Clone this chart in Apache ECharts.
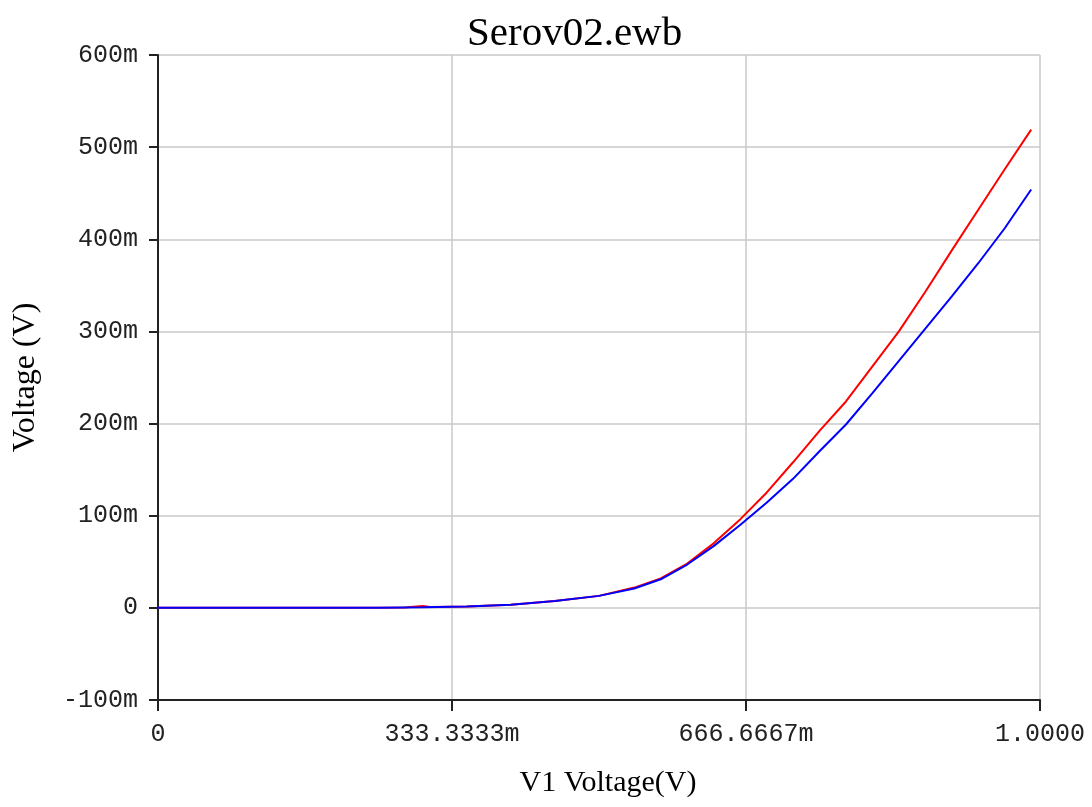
<!DOCTYPE html>
<html>
<head>
<meta charset="utf-8">
<script src="https://cdn.jsdelivr.net/npm/echarts@6/dist/echarts.min.js"></script>
<style>html,body{margin:0;padding:0;background:#fff;}#c{width:1092px;height:807px;}</style>
</head>
<body>
<div id="c"></div>
<script>
// Input sweep (V1, volts)
const vinRed  = [0, 0.1, 0.2, 0.28, 0.30, 0.31, 0.35, 0.40, 0.45, 0.50, 0.54, 0.57, 0.60, 0.63, 0.66, 0.69, 0.72, 0.75, 0.78, 0.81, 0.84, 0.87, 0.90, 0.93, 0.96, 0.99];
// Output voltages (mV)
const redMv   = [0, 0, 0, 0.3, 2, 0.8, 1.5, 3.5, 7.5, 13, 22, 32, 48, 70, 96, 125, 158, 192, 224, 262, 300, 343, 388, 432, 476, 519];
const vinBlue = [0, 0.1, 0.2, 0.25, 0.30, 0.35, 0.40, 0.45, 0.50, 0.54, 0.57, 0.60, 0.63, 0.66, 0.69, 0.72, 0.75, 0.78, 0.81, 0.84, 0.87, 0.90, 0.93, 0.96, 0.99];
const blueMv  = [0, 0, 0, 0.2, 0.6, 1.5, 3.5, 7.5, 13, 21, 31, 47, 67, 90, 114, 140, 170, 199, 233, 268, 303, 338, 374, 412, 454];
const xTickLabels = ['0', '333.3333m', '666.6667m', '1.0000'];
const yTickLabels = ['-100m', '0', '100m', '200m', '300m', '400m', '500m', '600m'];

const redData = vinRed.map((v, i) => [v, redMv[i]]);
const blueData = vinBlue.map((v, i) => [v, blueMv[i]]);

const chart = echarts.init(document.getElementById('c'), null, {renderer: 'canvas'});
const labelStyle = {fontFamily: 'Liberation Mono', fontSize: 25, color: '#222'};
chart.setOption({
  animation: false,
  backgroundColor: '#fff',
  title: {
    text: 'Serov02.ewb',
    left: 462, top: 9,
    textStyle: {fontFamily: 'Liberation Serif', fontSize: 41, fontWeight: 'normal', color: '#000'}
  },
  grid: {left: 158, right: 52, top: 55, bottom: 107, containLabel: false},
  xAxis: {
    type: 'value', min: 0, max: 1, interval: 1 / 3,
    name: 'V1 Voltage(V)', nameLocation: 'middle', nameGap: 68,
    nameTextStyle: {fontFamily: 'Liberation Serif', fontSize: 30, color: '#000', padding: [0, 0, 0, 18]},
    axisLine: {onZero: false, lineStyle: {color: '#222', width: 2}},
    axisTick: {show: true, length: 11, lineStyle: {color: '#222', width: 2}},
    axisLabel: Object.assign({margin: 22, formatter: v => xTickLabels[Math.round(v * 3)]}, labelStyle),
    splitLine: {show: true, lineStyle: {color: '#c8c8c8', width: 1.5}}
  },
  yAxis: {
    type: 'value', min: -100, max: 600, interval: 100,
    name: 'Voltage (V)', nameLocation: 'middle', nameGap: 116, nameRotate: 90,
    nameTextStyle: {fontFamily: 'Liberation Serif', fontSize: 32, color: '#000'},
    axisLine: {onZero: false, lineStyle: {color: '#222', width: 2}},
    axisTick: {show: true, length: 9, lineStyle: {color: '#222', width: 2}},
    axisLabel: Object.assign({margin: 20, formatter: v => yTickLabels[Math.round(v / 100) + 1]}, labelStyle),
    splitLine: {show: true, lineStyle: {color: '#c8c8c8', width: 1.5}}
  },
  series: [
    {type: 'line', data: redData, showSymbol: false, lineStyle: {color: '#ff0000', width: 2}, itemStyle: {color: '#ff0000'}},
    {type: 'line', data: blueData, showSymbol: false, lineStyle: {color: '#0000ff', width: 2}, itemStyle: {color: '#0000ff'}}
  ]
});
</script>
</body>
</html>
